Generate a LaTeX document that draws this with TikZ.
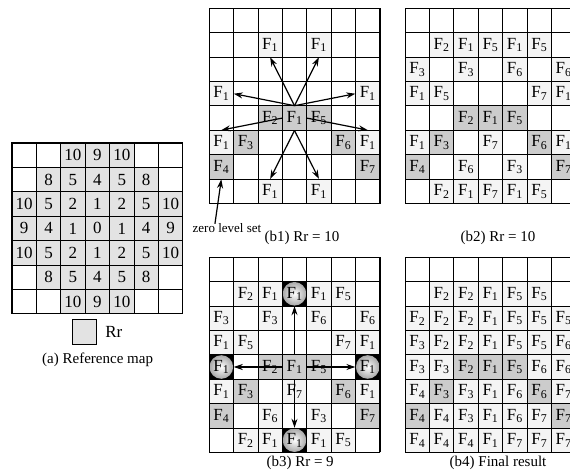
\documentclass[tikz,border=0pt]{standalone}
\usepackage{fontspec}
\setmainfont{Liberation Serif}
\usetikzlibrary{arrows.meta,positioning}
\newcommand{\Fn}[1]{F\textsubscript{#1}}

\begin{document}
\begin{tikzpicture}[x=24.4bp, y=24.4bp, every node/.append style={font=\fontsize{17bp}{17bp}\selectfont}]
    \tikzstyle{cell}=[minimum size=24.4bp, inner sep=0pt];
    \tikzstyle{lt}=[fill=gray!9];
    \tikzstyle{dk}=[fill=gray!40];
    \tikzstyle{refc}=[fill=gray!22];
    \tikzstyle{hit}=[fill=black, path picture={\shade[inner color=white, outer color=gray!70] (path picture bounding box.center) circle (11.8bp);}];
    \tikzstyle{arr}=[-{Stealth[length=9bp,width=6bp]}, line width=1.2bp];
    \tikzstyle{gridline}=[line width=0.8bp, step=1];
    \tikzstyle{captxt}=[font=\fontsize{15bp}{15bp}\selectfont];
    \clip (0,0) rectangle (23.36,19.34);
    %a
    \begin{scope}[shift={(0.49,6.48)}]
    	\foreach \r/\c/\v in {0/2/10,0/3/9,0/4/10,
    		1/1/8,1/2/5,1/3/4,1/4/5,1/5/8,
    		2/0/10,2/1/5,2/2/2,2/3/1,2/4/2,2/5/5,2/6/10,
    		3/0/9,3/1/4,3/2/1,3/3/0,3/4/1,3/5/4,3/6/9,
    		4/0/10,4/1/5,4/2/2,4/3/1,4/4/2,4/5/5,4/6/10,
    		5/1/8,5/2/5,5/3/4,5/4/5,5/5/8,
    		6/2/10,6/3/9,6/4/10}
    		\node[cell,refc] (a-\r-\c) at (\c+0.5,6.5-\r) {\v};
    	\draw[gridline] (0,0) grid (7,7);
    	\draw[line width=1bp] (0,0) rectangle (7,7);
    \end{scope}
    \node[cell,refc,draw,line width=0.8bp] (leg) at (3.45,5.74) {};
    \node[right=5bp of leg] (rrlabel) {Rr};
    \node[captxt] (capa) at (4.0,4.59) {(a) Reference map};
    %b1
    \begin{scope}[shift={(8.57,11.0)}]
    	\foreach \r/\c/\n/\s in {1/2/1/lt,1/4/1/lt,3/0/1/lt,3/6/1/lt,
    		4/2/2/dk,4/3/1/dk,4/4/5/dk,
    		5/0/1/lt,5/1/3/dk,5/5/6/dk,5/6/1/lt,
    		6/0/4/dk,6/6/7/dk,7/2/1/lt,7/4/1/lt}
    		\node[cell,\s] (b1-\r-\c) at (\c+0.5,7.5-\r) {\Fn{\n}};
    	\draw[gridline] (0,0) grid (7,8);
    	\draw[line width=1bp] (0,0) rectangle (7,8);
    	\draw[arr] (b1-4-3.north) -- (b1-1-2.south);
    	\draw[arr] (b1-4-3.north) -- (b1-1-4.south);
    	\draw[arr] (b1-4-3.north) -- (b1-3-0.east);
    	\draw[arr] (b1-4-3.north) -- (b1-3-6.west);
    	\draw[arr] (b1-4-3.west) -- (b1-5-0.north);
    	\draw[arr] (b1-4-3.east) -- (b1-5-6.north);
    	\draw[arr] (b1-4-3.south) -- (b1-7-2.north);
    	\draw[arr] (b1-4-3.south) -- (b1-7-4.north);
    \end{scope}
    \node[font=\fontsize{13bp}{13bp}\selectfont] (zls) at (9.30,10.0) {zero level set};
    \draw[arr] ([xshift=-12bp,yshift=-4bp]zls.north) -- (b1-6-0.south);
    \node[captxt] (capb1) at (12.38,9.59) {(b1) Rr = 10};
    %b2
    \begin{scope}[shift={(16.6,11.0)}]
    	\foreach \r/\c/\n/\s in {1/1/2/lt,1/2/1/lt,1/3/5/lt,1/4/1/lt,1/5/5/lt,
    		2/0/3/lt,2/2/3/lt,2/4/6/lt,2/6/6/lt,
    		3/0/1/lt,3/1/5/lt,3/5/7/lt,3/6/1/lt,
    		4/2/2/dk,4/3/1/dk,4/4/5/dk,
    		5/0/1/lt,5/1/3/dk,5/3/7/lt,5/5/6/dk,5/6/1/lt,
    		6/0/4/dk,6/2/6/lt,6/4/3/lt,6/6/7/dk,
    		7/1/2/lt,7/2/1/lt,7/3/7/lt,7/4/1/lt,7/5/5/lt}
    		\node[cell,\s] (b2-\r-\c) at (\c+0.5,7.5-\r) {\Fn{\n}};
    	\draw[gridline] (0,0) grid (7,8);
    	\draw[line width=1bp] (0,0) rectangle (7,8);
    \end{scope}
    \node[captxt] (capb2) at (20.41,9.59) {(b2) Rr = 10};
    %b3
    \begin{scope}[shift={(8.57,0.8)}]
    	\foreach \r/\c/\n/\s in {1/1/2/lt,1/2/1/lt,1/3/1/hit,1/4/1/lt,1/5/5/lt,
    		2/0/3/lt,2/2/3/lt,2/4/6/lt,2/6/6/lt,
    		3/0/1/lt,3/1/5/lt,3/5/7/lt,3/6/1/lt,
    		4/0/1/hit,4/2/2/dk,4/3/1/dk,4/4/5/dk,4/6/1/hit,
    		5/0/1/lt,5/1/3/dk,5/3/7/lt,5/5/6/dk,5/6/1/lt,
    		6/0/4/dk,6/2/6/lt,6/4/3/lt,6/6/7/dk,
    		7/1/2/lt,7/2/1/lt,7/3/1/hit,7/4/1/lt,7/5/5/lt}
    		\node[cell,\s] (b3-\r-\c) at (\c+0.5,7.5-\r) {\Fn{\n}};
    	\draw[gridline] (0,0) grid (7,8);
    	\draw[line width=1bp] (0,0) rectangle (7,8);
    	\draw[arr] (b3-4-3.north) -- (b3-1-3.south);
    	\draw[arr] (b3-4-3.south) -- (b3-7-3.north);
    	\draw[arr] (b3-4-3.west) -- (b3-4-0.east);
    	\draw[arr] (b3-4-3.east) -- (b3-4-6.west);
    \end{scope}
    \node[captxt] (capb3) at (12.3,0.37) {(b3) Rr = 9};
    %b4
    \begin{scope}[shift={(16.6,0.8)}]
    	\foreach \r/\c/\n/\s in {1/1/2/lt,1/2/2/lt,1/3/1/lt,1/4/5/lt,1/5/5/lt,
    		2/0/2/lt,2/1/2/lt,2/2/2/lt,2/3/1/lt,2/4/5/lt,2/5/5/lt,2/6/5/lt,
    		3/0/3/lt,3/1/2/lt,3/2/2/lt,3/3/1/lt,3/4/5/lt,3/5/5/lt,3/6/6/lt,
    		4/0/3/lt,4/1/3/lt,4/2/2/dk,4/3/1/dk,4/4/5/dk,4/5/6/lt,4/6/6/lt,
    		5/0/4/lt,5/1/3/dk,5/2/3/lt,5/3/1/lt,5/4/6/lt,5/5/6/dk,5/6/7/lt,
    		6/0/4/dk,6/1/4/lt,6/2/3/lt,6/3/1/lt,6/4/6/lt,6/5/7/lt,6/6/7/dk,
    		7/0/4/lt,7/1/4/lt,7/2/4/lt,7/3/1/lt,7/4/7/lt,7/5/7/lt,7/6/7/lt}
    		\node[cell,\s] (b4-\r-\c) at (\c+0.5,7.5-\r) {\Fn{\n}};
    	\draw[gridline] (0,0) grid (7,8);
    	\draw[line width=1bp] (0,0) rectangle (7,8);
    \end{scope}
    \node[captxt] (capb4) at (20.41,0.37) {(b4) Final result};
\end{tikzpicture}
\end{document}
